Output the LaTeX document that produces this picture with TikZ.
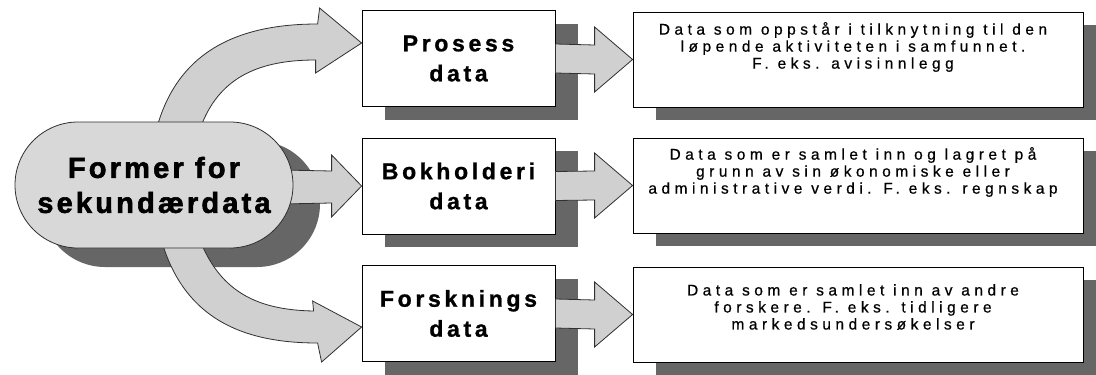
\documentclass[tikz,border=0pt]{standalone}
\usepackage{fontspec}
\setmainfont{Liberation Sans}
\newfontfamily\bigfont[LetterSpace=11, BoldFeatures={FakeBold=2}]{Liberation Sans}
\newfontfamily\labfont[LetterSpace=16, BoldFeatures={FakeBold=1}]{Liberation Sans}
\newfontfamily\descfont[LetterSpace=29, FakeBold=0.6]{Liberation Sans}
\usetikzlibrary{shapes.misc,calc,shadows}
\definecolor{arrowfill}{HTML}{D0D0D0}
\definecolor{stadfill}{HTML}{D8D8D8}
\definecolor{shadowcol}{HTML}{666666}
\definecolor{edgecol}{HTML}{303030}
\pgfdeclarelayer{bg}
\pgfdeclarelayer{mid}
\pgfsetlayers{bg,mid,main}
\newcommand\linkarrow[2]{%
  \draw[fatarrow] ($(#1.east)+(0,-14.5)$) -- ($(#2.west)+(-38,-14.5)$)
    -- ($(#2.west)+(-38,-32.5)$) -- (#2.west) -- ($(#2.west)+(-38,32.5)$)
    -- ($(#2.west)+(-38,14.5)$) -- ($(#1.east)+(0,14.5)$) -- cycle;}
\begin{document}
\begin{tikzpicture}[x=1pt,y=-1pt,
  fatarrow/.style={fill=arrowfill,draw=edgecol,line width=0.8pt,line join=miter},
  stadium/.style={rounded rectangle, draw=edgecol, line width=0.8pt, fill=stadfill,
    minimum width=278pt, minimum height=126pt, inner sep=0pt, align=center,
    font=\bigfont\bfseries\fontsize{29}{35}\selectfont},
  stadshadow/.style={rounded rectangle, fill=shadowcol, draw=none,
    minimum width=278pt, minimum height=126pt, inner sep=0pt},
  midbox/.style={rectangle, draw=black, line width=0.8pt, fill=white,
    minimum width=193pt, minimum height=96pt, inner sep=0pt, align=center,
    font=\labfont\bfseries\fontsize{23}{30}\selectfont,
    drop shadow={shadow xshift=23pt, shadow yshift=-13pt, fill=shadowcol, opacity=1}},
  descbox/.style={rectangle, draw=black, line width=0.8pt, fill=white,
    minimum width=450pt, minimum height=95pt, inner sep=0pt,
    drop shadow={shadow xshift=23pt, shadow yshift=-13pt, fill=shadowcol, opacity=1}},
  desctext/.style={align=center, inner sep=0pt,
    font=\descfont\fontsize{15.5}{17}\selectfont}]
\useasboundingbox (0,0) rectangle (1096,375);
\clip (0,0) rectangle (1096,375);

% stadium
\node[stadium] (S) at (154,185) {Former for\\sekundærdata};
\begin{pgfonlayer}{bg}
  \node[stadshadow] (Sshadow) at ($(S.center)+(27,19)$) {};
\end{pgfonlayer}

% middle boxes
\node[midbox] (p1) at (458.5,58.5) {Prosess\\data};
\node[midbox] (b1) at (458.5,186) {Bokholderi\\data};
\node[midbox] (f1) at (458.5,313.5) {Forsknings\\data};

% right boxes
\node[descbox] (d1) at (858,59.5) {};
\node[descbox] (d2) at (858,185.5) {};
\node[descbox] (d3) at (858,314.5) {};
\node[desctext] (t1) at ($(d1.center)+(-5,-12.5)$)
  {Data som oppstår i tilknytning til den\\løpende aktiviteten i samfunnet.\\F. eks. avisinnlegg};
\node[desctext] (t2) at ($(d2.center)+(-5,-13.5)$)
  {Data som er samlet inn og lagret på\\grunn av sin økonomiske eller\\administrative verdi. F. eks. regnskap};
\node[desctext] (t3) at ($(d3.center)+(-5,-7.5)$)
  {Data som er samlet inn av andre\\forskere. F. eks. tidligere\\markedsundersøkelser};

% big arrows from the stadium
\begin{pgfonlayer}{mid}
  % top
  \draw[fatarrow] ($(S.center)+(1,-50)$)
    .. controls ($(S.center)+(21,-135)$) and ($(p1.west)+(-122,-34.5)$) .. ($(p1.west)+(-44,-34.5)$)
    -- ($(p1.west)+(-42,-50.5)$) -- ($(p1.west)+(0,-15.5)$) -- ($(p1.west)+(-46,14.5)$)
    -- ($(p1.west)+(-46,1.5)$)
    .. controls ($(p1.west)+(-107,1.5)$) and ($(S.center)+(61,-105)$) .. ($(S.center)+(44,-50)$)
    -- cycle;
  % middle
  \draw[fatarrow] ($(S.east)+(-12,-15)$) -- ($(b1.west)+(-30,-15)$)
    -- ($(b1.west)+(-30,-31)$) -- (b1.west) -- ($(b1.west)+(-30,31)$)
    -- ($(b1.west)+(-30,17)$) -- ($(S.east)+(-12,19)$) -- cycle;
  % bottom
  \draw[fatarrow] ($(S.center)+(6,50)$)
    .. controls ($(S.center)+(28,135)$) and ($(f1.west)+(-117,29.5)$) .. ($(f1.west)+(-44,29.5)$)
    -- ($(f1.west)+(-40,48.5)$) -- ($(f1.west)+(0,13.5)$) -- ($(f1.west)+(-49,-12.5)$)
    -- ($(f1.west)+(-48,-2.5)$)
    .. controls ($(f1.west)+(-107,-3.5)$) and ($(S.center)+(64,105)$) .. ($(S.center)+(44,50)$)
    -- cycle;
\end{pgfonlayer}

% small arrows
\linkarrow{p1}{d1}
\linkarrow{b1}{d2}
\linkarrow{f1}{d3}
\end{tikzpicture}
\end{document}
